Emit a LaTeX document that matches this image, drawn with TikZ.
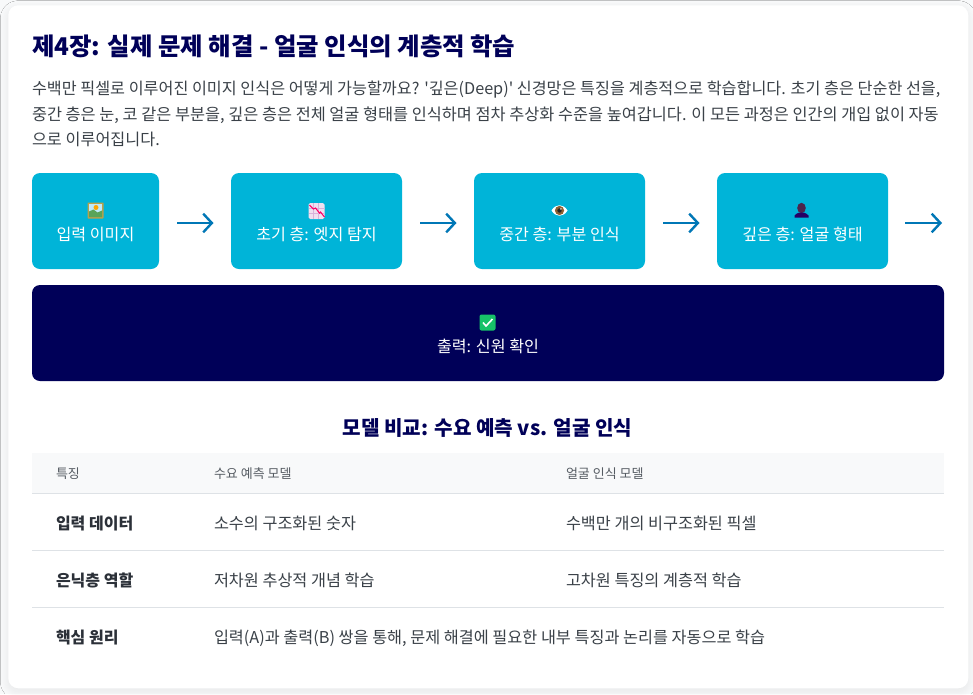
\documentclass[tikz,border=0pt]{standalone}
\usepackage{fontspec}
\setmainfont{Noto Sans CJK KR}
\usetikzlibrary{arrows.meta,shadows.blur,calc}
\definecolor{pagebg}{HTML}{F8F9FA}
\definecolor{navy}{HTML}{000058}
\definecolor{cyanbox}{HTML}{00B4D8}
\definecolor{arrowblue}{HTML}{0077B6}
\definecolor{bodytxt}{HTML}{3A4148}
\definecolor{headbg}{HTML}{F8F9FA}
\definecolor{headtxt}{HTML}{555B62}
\definecolor{rulec}{HTML}{DEE2E6}
\definecolor{keytxt}{HTML}{2B3038}
\definecolor{checkgreen}{HTML}{17C268}
\tikzset{
  txt/.style={inner sep=0pt,outer sep=0pt,anchor=base west},
  stepbox/.style={fill=cyanbox,rounded corners=6pt,inner sep=0pt,outer sep=0pt},
  outbox/.style={fill=navy,rounded corners=6pt,inner sep=0pt,outer sep=0pt},
  boxlabel/.style={inner sep=0pt,text=white,anchor=base,font=\fontsize{12.1pt}{14pt}\selectfont},
  flow/.style={draw=arrowblue,line width=1.8pt,-{Straight Barb[length=6.5pt,width=14pt,line width=1.8pt]}},
  bodyline/.style={txt,text=bodytxt,font=\fontsize{12.2pt}{14pt}\selectfont},
  thead/.style={txt,text=headtxt,font=\fontsize{9.75pt}{12pt}\selectfont},
  tcell/.style={txt,text=bodytxt,font=\fontsize{12.2pt}{14pt}\selectfont},
  tkey/.style={txt,text=keytxt,font=\fontsize{12pt}{14pt}\selectfont\bfseries},
}
\begin{document}
\begin{tikzpicture}[x=0.75pt,y=-0.75pt]
\useasboundingbox (0,0) rectangle (973,694);
\fill[pagebg] (0,0) rectangle (973,694);
\node[fill=white,rounded corners=7.5pt,inner sep=0pt,minimum width=720pt,minimum height=512.25pt,anchor=north west,blur shadow={shadow blur steps=10,shadow xshift=0pt,shadow yshift=-2.5pt,shadow blur radius=6pt,shadow opacity=7}] (card) at (8,5) {};

\node[txt,text=navy,font=\fontsize{18.3pt}{22pt}\selectfont\bfseries] (title) at (32,55.5) {제4장: 실제 문제 해결 - 얼굴 인식의 계층적 학습};
\node[bodyline,font=\fontsize{12.16pt}{14pt}\selectfont] (l1) at (32,94) {수백만 픽셀로 이루어진 이미지 인식은 어떻게 가능할까요? \textquotesingle 깊은(Deep)\textquotesingle{} 신경망은 특징을 계층적으로 학습합니다. 초기 층은 단순한 선을,};
\node[bodyline,font=\fontsize{12.25pt}{14pt}\selectfont] (l2) at (32,120) {중간 층은 눈, 코 같은 부분을, 깊은 층은 전체 얼굴 형태를 인식하며 점차 추상화 수준을 높여갑니다. 이 모든 과정은 인간의 개입 없이 자동};
\node[bodyline] (l3) at (32,145.5) {으로 이루어집니다.};

% boxes
\node[stepbox,minimum width=95.25pt,minimum height=72pt,anchor=north west] (b1) at (32,173) {};
\node[stepbox,minimum width=128.25pt,minimum height=72pt,anchor=north west] (b2) at (231,173) {};
\node[stepbox,minimum width=128.25pt,minimum height=72pt,anchor=north west] (b3) at (474,173) {};
\node[stepbox,minimum width=128.25pt,minimum height=72pt,anchor=north west] (b4) at (717,173) {};
\node[outbox,minimum width=684pt,minimum height=72pt,anchor=north west] (b5) at (32,285) {};

\node[boxlabel] (t1) at (95.5,240) {입력 이미지};
\node[boxlabel] (t2) at (316.5,240) {초기 층: 엣지 탐지};
\node[boxlabel] (t3) at (559.5,240) {중간 층: 부분 인식};
\node[boxlabel] (t4) at (802.5,240) {깊은 층: 얼굴 형태};
\node[boxlabel] (t5) at (488,352) {출력: 신원 확인};

% arrows
\coordinate (endarrow) at (942,223);
\draw[flow] ($(b1.east)+(18,2)$) -- ($(b2.west)+(-17.5,2)$);
\draw[flow] ($(b2.east)+(18,2)$) -- ($(b3.west)+(-17.5,2)$);
\draw[flow] ($(b3.east)+(18,2)$) -- ($(b4.west)+(-17.5,2)$);
\draw[flow] ($(b4.east)+(17,2)$) -- (endarrow);

% icon: picture
\begin{scope}[shift={(95.5,210.5)}]
  \fill[rounded corners=0.5pt,fill=black!35!yellow!55!brown] (-8,-8) rectangle (8,8);
  \fill[fill=cyan!25!white] (-6.5,-6.5) rectangle (6.5,6.5);
  \fill[fill=orange!70!yellow] (0.5,-3) circle (2.5);
  \fill[fill=green!45!black!65] (-6.5,6.5) -- (-6.5,1) -- (-2,-1) -- (2,2) -- (6.5,0) -- (6.5,6.5) -- cycle;
\end{scope}
% icon: chart
\begin{scope}[shift={(316.5,211)}]
  \fill[rounded corners=1.2pt,fill=violet!12!white] (-8,-8) rectangle (8,8);
  \draw[violet!30!white,line width=0.3pt] (-8,-3) -- (8,-3) (-8,2) -- (8,2) (-3,-8) -- (-3,8) (2,-8) -- (2,8);
  \draw[red!60!magenta,line width=0.8pt] (-7,-6) -- (-3,-2) -- (-1,-3) -- (3,2) -- (4,1) -- (8,6);
\end{scope}
% icon: eye
\begin{scope}[shift={(559.5,210.5)}]
  \fill[white] (-8,0) .. controls (-4,-7) and (4,-7) .. (8,0) .. controls (4,7) and (-4,7) .. (-8,0) -- cycle;
  \fill[fill=brown!75!black] (0,0) circle (4.6);
  \fill[fill=black!85] (0,0) circle (2.2);
  \fill[white] (1.4,-1.6) circle (0.8);
\end{scope}
% icon: silhouette
\begin{scope}[shift={(801.5,210.5)}]
  \fill[fill=violet!35!black!85] (0,-2.5) ellipse (4.3 and 5.2);
  \fill[fill=navy!70!violet] (-7,7) -- (-7,5) .. controls (-6,3) and (-3,2.5) .. (-2,2) -- (2,2) .. controls (3,2.5) and (6,3) .. (7,5) -- (7,7) -- cycle;
\end{scope}
% icon: check
\begin{scope}[shift={(487.5,322.5)}]
  \fill[rounded corners=1.5pt,fill=checkgreen] (-8,-8) rectangle (8,8);
  \draw[white,line width=1.2pt] (-4.5,0) -- (-1.5,3.5) -- (5,-3.5);
\end{scope}

% table
\node[inner sep=0pt,anchor=base,text=navy,font=\fontsize{15.1pt}{18pt}\selectfont\bfseries] (subtitle) at (487.5,435) {모델 비교: 수요 예측 vs. 얼굴 인식};
\fill[headbg] (32,453) rectangle (944,493);
\coordinate (ra) at (32,493); \coordinate (rae) at (944,493);
\coordinate (rb) at (32,550); \coordinate (rbe) at (944,550);
\coordinate (rc) at (32,607); \coordinate (rce) at (944,607);
\draw[rulec,line width=0.75pt] (ra) -- (rae) (rb) -- (rbe) (rc) -- (rce);
\node[thead] (h1) at (56,478) {특징};
\node[thead] (h2) at (214,478) {수요 예측 모델};
\node[thead] (h3) at (566,478) {얼굴 인식 모델};
\node[tkey] (k1) at (56,529.5) {입력 데이터};
\node[tcell] (c12) at (214,529.5) {소수의 구조화된 숫자};
\node[tcell] (c13) at (566,529.5) {수백만 개의 비구조화된 픽셀};
\node[tkey] (k2) at (56,586.5) {은닉층 역할};
\node[tcell] (c22) at (214,586.5) {저차원 추상적 개념 학습};
\node[tcell] (c23) at (566,586.5) {고차원 특징의 계층적 학습};
\node[tkey] (k3) at (56,643.5) {핵심 원리};
\node[tcell] (c32) at (214,643.5) {입력(A)과 출력(B) 쌍을 통해, 문제 해결에 필요한 내부 특징과 논리를 자동으로 학습};
\end{tikzpicture}
\end{document}
